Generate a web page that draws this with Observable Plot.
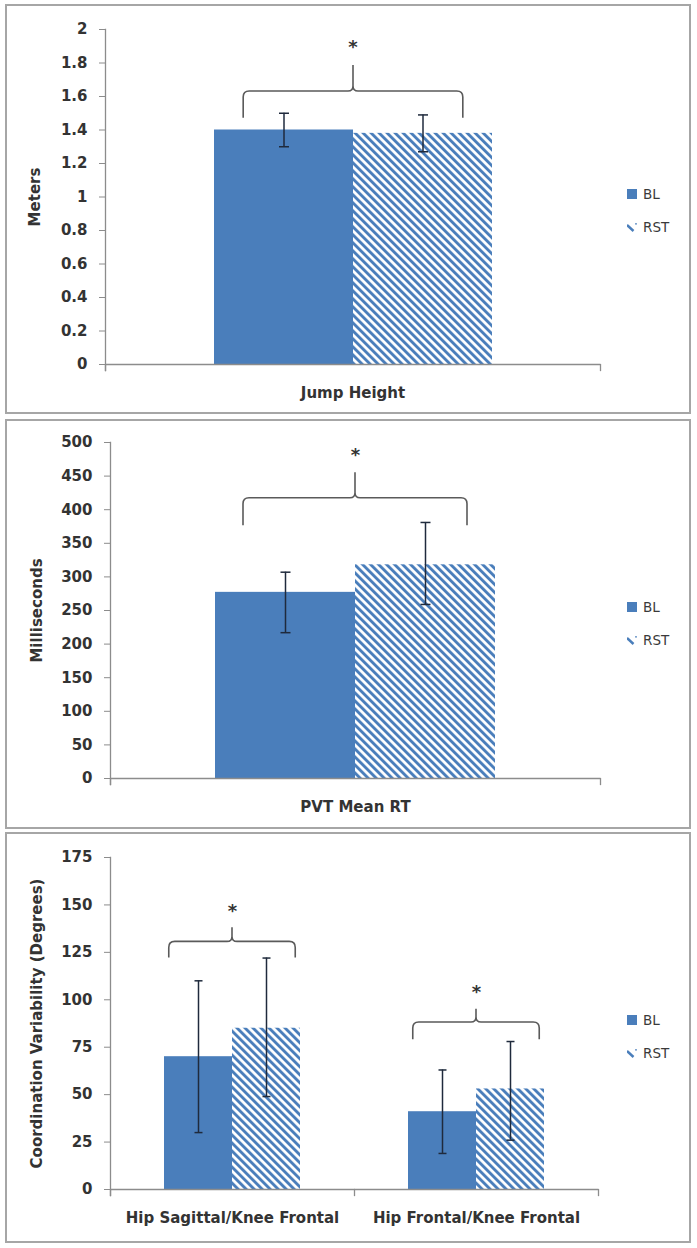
<!DOCTYPE html>
<html><head><meta charset="utf-8">
<script src="https://cdn.jsdelivr.net/npm/d3@7"></script>
<script src="https://cdn.jsdelivr.net/npm/@observablehq/plot@0.6"></script>
<style>
body{margin:0;background:#fff;}
#page{position:relative;width:697px;height:1248px;overflow:hidden;background:#fff;}
.panel{position:absolute;box-sizing:border-box;border:2px solid #a6a6a6;background:#fff;}
.plot{position:absolute;left:0;}
.leg{position:absolute;left:627px;height:16px;font-family:"DejaVu Sans";font-size:13.5px;color:#3a3a3a;line-height:16px;display:flex;align-items:center;}
.sw{display:inline-block;width:10px;height:10px;margin-right:6px;}
</style></head><body><div id="page"></div><script>
// ---------- data ----------
const series = ["BL", "RST"];

const jumpCategories = ["Jump Height"];
const jumpBL = [1.40];
const jumpBLLow = [1.30];
const jumpBLHigh = [1.50];
const jumpRST = [1.38];
const jumpRSTLow = [1.27];
const jumpRSTHigh = [1.49];
const jumpTicks = [0, 0.2, 0.4, 0.6, 0.8, 1, 1.2, 1.4, 1.6, 1.8, 2];
const jumpBracketBase = [1.47];
const jumpBracketBar = [1.63];
const jumpBracketTip = [1.785];
const jumpStar = [1.91];

const pvtCategories = ["PVT Mean RT"];
const pvtBL = [277];
const pvtBLLow = [217];
const pvtBLHigh = [307];
const pvtRST = [318];
const pvtRSTLow = [259];
const pvtRSTHigh = [381];
const pvtTicks = [0, 50, 100, 150, 200, 250, 300, 350, 400, 450, 500];
const pvtBracketBase = [376];
const pvtBracketBar = [417];
const pvtBracketTip = [455];
const pvtStar = [485];

const coordCategories = ["Hip Sagittal/Knee Frontal", "Hip Frontal/Knee Frontal"];
const coordBL = [70, 41];
const coordBLLow = [30, 19];
const coordBLHigh = [110, 63];
const coordRST = [85, 53];
const coordRSTLow = [49, 26];
const coordRSTHigh = [122, 78];
const coordTicks = [0, 25, 50, 75, 100, 125, 150, 175];
const coordBracketBase = [122, 79];
const coordBracketBar = [130.5, 88];
const coordBracketTip = [138, 95];
const coordStar = [148, 105.5];

const yLabels = ["Meters", "Milliseconds", "Coordination Variability (Degrees)"];

// ---------- style / layout ----------
const blue = "#4a7ebb";
const axisColor = "#8c8c8c";
const textColor = "#333333";
const errColor = "#1f2a3c";
const bracketColor = "#5a5a5a";

const boxes = [{top: 4, h: 410}, {top: 419, h: 410}, {top: 832, h: 411}];
const layouts = [
  {top: 4, height: 410, mt: 25, mb: 50, ml: 105, mr: 97, padOuter: 0.77, inset: 0.21, cap: 5, labelOffset: 76},
  {top: 420, height: 408, mt: 22, mb: 50, ml: 110, mr: 97, padOuter: 0.75, inset: 0.2, cap: 5, labelOffset: 79},
  {top: 833, height: 409, mt: 24, mb: 53, ml: 110, mr: 99, padOuter: 0.78, inset: 0.07, cap: 4, labelOffset: 79}
];

const capSymbol = {
  draw(ctx, size) {
    const h = Math.sqrt(size / Math.PI);
    ctx.moveTo(-h, 0);
    ctx.lineTo(h, 0);
  }
};

const page = document.getElementById("page");
boxes.forEach(b => {
  const d = document.createElement("div");
  d.className = "panel";
  d.style.left = "5px"; d.style.width = "686px";
  d.style.top = b.top + "px"; d.style.height = b.h + "px";
  page.appendChild(d);
});

function makePanel(k, cats, bl, blLo, blHi, rst, rstLo, rstHi, ticks, bBase, bBar, bTip, star) {
  const cfg = layouts[k];
  const patId = "hatch" + k;
  const rows = cats.flatMap((c, i) => [
    {cat: c, series: series[0], value: bl[i], lo: blLo[i], hi: blHi[i]},
    {cat: c, series: series[1], value: rst[i], lo: rstLo[i], hi: rstHi[i]}
  ]);
  const brackets = cats.map((c, i) => ({cat: c, base: bBase[i], bar: bBar[i], tip: bTip[i], star: star[i]}));
  const plotH = cfg.height - cfg.mt - cfg.mb;

  const bracketRender = (index, scales) => {
    const {x, y} = scales;
    const bw = typeof x.bandwidth === "function" ? x.bandwidth() : x.bandwidth;
    const g = d3.create("svg:g").attr("fill", "none").attr("stroke", bracketColor).attr("stroke-width", 1.6);
    for (const i of index) {
      const b = brackets[i];
      const xl = x(series[0]) + cfg.inset * bw;
      const xr = x(series[1]) + bw - cfg.inset * bw;
      const xc = x(series[1]);
      const yb = y(b.base), yh = y(b.bar), yp = y(b.tip);
      const rad = 6, rc = 5;
      g.append("path").attr("d",
        `M${xl},${yb}V${yh + rad}Q${xl},${yh} ${xl + rad},${yh}H${xc - rc}Q${xc},${yh} ${xc},${yh - rc}V${yp}` +
        `M${xc},${yh - rc}Q${xc},${yh} ${xc + rc},${yh}H${xr - rad}Q${xr},${yh} ${xr},${yh + rad}V${yb}`);
    }
    return g.node();
  };

  const svg = Plot.plot({
    width: 697,
    height: cfg.height,
    marginTop: cfg.mt,
    marginBottom: cfg.mb,
    marginLeft: cfg.ml,
    marginRight: cfg.mr,
    style: {fontFamily: "DejaVu Sans", fontSize: "15px", fontWeight: "bold", color: textColor, background: "transparent", overflow: "visible"},
    fx: {domain: cats, padding: 0, axis: "bottom", tickSize: 0, tickPadding: 23, label: null},
    x: {domain: series, paddingInner: 0, paddingOuter: cfg.padOuter, axis: null},
    y: {domain: [0, ticks[ticks.length - 1]]},
    marks: [
      Plot.barY(rows.filter(d => d.series === series[0]), {fx: "cat", x: "series", y: "value", fill: blue}),
      Plot.barY(rows.filter(d => d.series === series[1]), {fx: "cat", x: "series", y: "value", fill: `url(#${patId})`}),
      Plot.ruleY([0], {stroke: axisColor, strokeWidth: 1.3}),
      Plot.frame({anchor: "left", facetAnchor: "left", stroke: axisColor, strokeWidth: 1.3, insetBottom: -6}),
      Plot.frame({anchor: "left", stroke: axisColor, strokeWidth: 1.3, insetTop: plotH, insetBottom: -6}),
      Plot.frame({anchor: "right", facetAnchor: "right", stroke: axisColor, strokeWidth: 1.3, insetTop: plotH, insetBottom: -6}),
      Plot.axisY({ticks, tickFormat: d => `${d}`, tickSize: 6, tickPadding: 12, label: yLabels[k], labelAnchor: "center", labelArrow: "none",
        labelOffset: cfg.labelOffset, stroke: axisColor, fill: textColor}),
      Plot.ruleX(rows, {fx: "cat", x: "series", y1: "lo", y2: "hi", stroke: errColor, strokeWidth: 1.5}),
      Plot.dot(rows, {fx: "cat", x: "series", y: "lo", symbol: capSymbol, r: cfg.cap, stroke: errColor, strokeWidth: 1.5, fill: "none"}),
      Plot.dot(rows, {fx: "cat", x: "series", y: "hi", symbol: capSymbol, r: cfg.cap, stroke: errColor, strokeWidth: 1.5, fill: "none"}),
      Plot.ruleY(brackets, {fx: "cat", y: "bar", render: bracketRender}),
      Plot.text(brackets, {fx: "cat", y: "star", text: () => "*", fontSize: 18, fontWeight: "bold", fill: textColor, dy: 3})
    ]
  });

  const defs = d3.select(svg).insert("defs", ":first-child");
  const s = 5.66;
  const pat = defs.append("pattern").attr("id", patId).attr("patternUnits", "userSpaceOnUse")
    .attr("width", s).attr("height", s).attr("patternTransform", "rotate(-45)");
  pat.append("rect").attr("width", s).attr("height", s).attr("fill", "#fff");
  pat.append("rect").attr("width", 2.9).attr("height", s).attr("fill", blue);

  svg.classList.add("plot");
  svg.style.position = "absolute";
  svg.style.left = "0px";
  svg.style.top = cfg.top + "px";
  page.appendChild(svg);

  // legend
  const mid = cfg.top + cfg.mt + plotH / 2;
  const l1 = document.createElement("div");
  l1.className = "leg";
  l1.style.top = (mid - 3 - 8) + "px";
  l1.innerHTML = `<span class="sw" style="background:${blue}"></span>${series[0]}`;
  page.appendChild(l1);
  const l2 = document.createElement("div");
  l2.className = "leg";
  l2.style.top = (mid + 30 - 8) + "px";
  l2.innerHTML = `<svg width="10" height="10" style="margin-right:6px"><line x1="0" y1="3" x2="6.5" y2="9" stroke="${blue}" stroke-width="2.4"/><circle cx="9" cy="1.8" r="0.9" fill="${blue}"/></svg>${series[1]}`;
  page.appendChild(l2);
}

makePanel(0, jumpCategories, jumpBL, jumpBLLow, jumpBLHigh, jumpRST, jumpRSTLow, jumpRSTHigh, jumpTicks,
  jumpBracketBase, jumpBracketBar, jumpBracketTip, jumpStar);
makePanel(1, pvtCategories, pvtBL, pvtBLLow, pvtBLHigh, pvtRST, pvtRSTLow, pvtRSTHigh, pvtTicks,
  pvtBracketBase, pvtBracketBar, pvtBracketTip, pvtStar);
makePanel(2, coordCategories, coordBL, coordBLLow, coordBLHigh, coordRST, coordRSTLow, coordRSTHigh, coordTicks,
  coordBracketBase, coordBracketBar, coordBracketTip, coordStar);
</script></body></html>
